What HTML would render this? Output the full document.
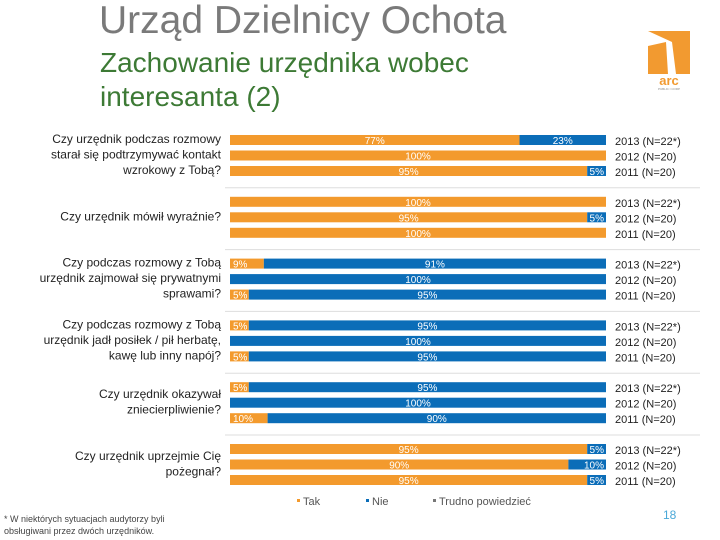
<!DOCTYPE html>
<html><head><meta charset="utf-8"><style>
body{margin:0;width:720px;height:540px;background:#fff;font-family:"Liberation Sans",sans-serif;position:relative;overflow:hidden}
.a{position:absolute}
</style></head><body>
<div class="a" style="left:99px;top:-1px;font-size:39px;color:#7a7a7a">Urząd Dzielnicy Ochota</div>
<div class="a" style="left:100px;top:46px;font-size:28px;line-height:34px;color:#3d7a35">Zachowanie urzędnika wobec<br>interesanta (2)</div>
<div class="a" style="left:646px;top:28px;width:46px;height:62px">
<svg width="46" height="62"><polygon points="2,3 44,3 44,46 30,46 26,14 2,3" fill="#f29a30"/><polygon points="2,18 20,14 22,46 2,46" fill="#f29a30"/><text x="23" y="57" font-size="13" font-weight="bold" fill="#f29a30" text-anchor="middle" font-family="Liberation Sans">arc</text><text x="23" y="62" font-size="3" fill="#888" text-anchor="middle">PUBLIC I CORP</text></svg></div>
<svg class="a" style="left:0;top:0" width="720" height="540" id="chart"></svg>
<div class="a" style="left:4px;top:513px;font-size:9px;line-height:12px;color:#444">* W niektórych sytuacjach audytorzy byli<br>obsługiwani przez dwóch urzędników.</div>
<div class="a" style="left:663px;top:508px;font-size:12px;color:#4aa8d8">18</div>
<script>
const questions=["Czy urzędnik podczas rozmowy|starał się podtrzymywać kontakt|wzrokowy z Tobą?","Czy urzędnik mówił wyraźnie?","Czy podczas rozmowy z Tobą|urzędnik zajmował się prywatnymi|sprawami?","Czy podczas rozmowy z Tobą|urzędnik jadł posiłek / pił herbatę,|kawę lub inny napój?","Czy urzędnik okazywał|zniecierpliwienie?","Czy urzędnik uprzejmie Cię|pożegnał?"];
const years=["2013 (N=22*)","2012 (N=20)","2011 (N=20)"];
const tak=[[77,100,95],[100,95,100],[9,0,5],[5,0,5],[5,0,10],[95,90,95]];
const nie=[[23,0,5],[0,5,0],[91,100,95],[95,100,95],[95,100,90],[5,10,5]];
const svg=document.getElementById('chart');const NS='http://www.w3.org/2000/svg';
const X0=230,X1=606;const xs=v=>X0+(X1-X0)*v/100;
const rowY=(g,r)=>140+g*61.8+r*15.5;
function mk(t,a){const e=document.createElementNS(NS,t);for(const k in a)e.setAttribute(k,a[k]);svg.appendChild(e);return e;}
questions.forEach((q,g)=>{
 if(g>0){const l=mk('line',{x1:225,x2:700,y1:rowY(g,0)-14,y2:rowY(g,0)-14,stroke:'#ddd'});
 
 }
 const lines=q.split('|');const cy=rowY(g,1)+3;
 lines.forEach((s,i)=>{const t=mk('text',{x:221,y:cy+(i-(lines.length-1)/2)*15.5,'font-size':12,'text-anchor':'end',fill:'#222'});t.textContent=s;
 
 });
 for(let r=0;r<3;r++){const y=rowY(g,r);
  const a=tak[g][r],b=nie[g][r];
  if(a>0){const re=mk('rect',{x:xs(0),y:y-5,width:xs(a)-xs(0),height:10,fill:'#f39a2d'});
   
   
   const t=mk('text',{x:a<12?xs(0)+3:(xs(0)+xs(a))/2,y:y+4,'font-size':10,fill:'#fff','text-anchor':a<12?'start':'middle'});t.textContent=a+'%';
   
   }
  if(b>0){const re=mk('rect',{x:xs(a),y:y-5,width:xs(a+b)-xs(a),height:10,fill:'#0b6db8'});
   
   
   const t=mk('text',{x:b<12?xs(a+b)-2:(xs(a)+xs(a+b))/2,y:y+4,'font-size':10,fill:'#fff','text-anchor':b<12?'end':'middle'});t.textContent=b+'%';
   
   }
  const yt=mk('text',{x:615,y:y+5,'font-size':11,fill:'#222'});yt.textContent=years[r];
  
  
 }
});
const legend=[["Tak","#f39a2d",297],["Nie","#0b6db8",366],["Trudno powiedzieć","#777",433]];
legend.forEach(([n,c,x])=>{const r=mk('rect',{x:x,y:499,width:3,height:3,fill:c});
 
 
 const t=mk('text',{x:x+6,y:505,'font-size':11,fill:'#555'});t.textContent=n;
 
 });
</script>
</body></html>
